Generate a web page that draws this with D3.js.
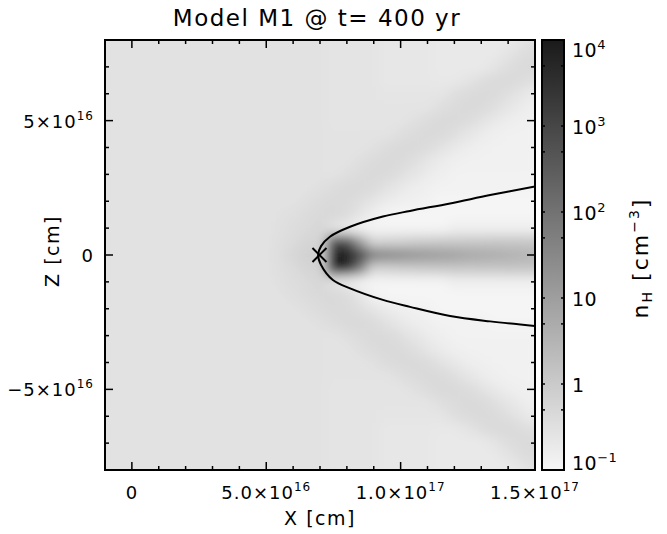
<!DOCTYPE html>
<html>
<head>
<meta charset="utf-8">
<script src="https://cdn.jsdelivr.net/npm/d3@7"></script>
<style>
  body { margin: 0; background: #fff; }
  text { font-family: "DejaVu Sans", sans-serif; fill: #000; }
</style>
</head>
<body>
<svg id="chart" width="667" height="534"></svg>
<script>
const UNIT = 1e16; // cm

// grid centres (in 1e16 cm)
const gridX = [-1,-0.5,0,0.5,1,1.5,2,2.5,3,3.5,4,4.5,5,5.5,6,6.5,7,7.5,8,8.5,9,9.5,10,10.5,11,11.5,12,12.5,13,13.5,14,14.5,15];
const gridZ = [8,7.5,7,6.5,6,5.5,5,4.5,4,3.5,3,2.5,2,1.5,1,0.5,0,-0.5,-1,-1.5,-2,-2.5,-3,-3.5,-4,-4.5,-5,-5.5,-6,-6.5,-7,-7.5,-8];

// log10 n_H [cm^-3], one row per gridZ (top to bottom), one column per gridX
const logNH = [
  [-0.55,-0.55,-0.55,-0.55,-0.55,-0.55,-0.55,-0.55,-0.55,-0.55,-0.55,-0.55,-0.55,-0.55,-0.55,-0.55,-0.55,-0.6,-0.6,-0.6,-0.6,-0.65,-0.65,-0.65,-0.65,-0.7,-0.7,-0.7,-0.7,-0.7,-0.7,-0.62,-0.5],
  [-0.55,-0.55,-0.55,-0.55,-0.55,-0.55,-0.55,-0.55,-0.55,-0.55,-0.55,-0.55,-0.55,-0.55,-0.55,-0.55,-0.55,-0.6,-0.6,-0.6,-0.6,-0.65,-0.65,-0.65,-0.65,-0.7,-0.7,-0.7,-0.7,-0.7,-0.6,-0.45,-0.38],
  [-0.55,-0.55,-0.55,-0.55,-0.55,-0.55,-0.55,-0.55,-0.55,-0.55,-0.55,-0.55,-0.55,-0.55,-0.55,-0.55,-0.55,-0.6,-0.6,-0.6,-0.6,-0.65,-0.65,-0.65,-0.65,-0.7,-0.7,-0.7,-0.7,-0.6,-0.45,-0.36,-0.35],
  [-0.55,-0.55,-0.55,-0.55,-0.55,-0.55,-0.55,-0.55,-0.55,-0.55,-0.55,-0.55,-0.55,-0.55,-0.55,-0.55,-0.55,-0.6,-0.6,-0.6,-0.6,-0.65,-0.65,-0.65,-0.65,-0.68,-0.68,-0.58,-0.45,-0.36,-0.34,-0.4,-0.5],
  [-0.55,-0.55,-0.55,-0.55,-0.55,-0.55,-0.55,-0.55,-0.55,-0.55,-0.55,-0.55,-0.55,-0.55,-0.55,-0.55,-0.55,-0.6,-0.6,-0.6,-0.6,-0.62,-0.62,-0.62,-0.62,-0.62,-0.47,-0.38,-0.33,-0.36,-0.48,-0.62,-0.74],
  [-0.55,-0.55,-0.55,-0.55,-0.55,-0.55,-0.55,-0.55,-0.55,-0.55,-0.55,-0.55,-0.55,-0.55,-0.55,-0.55,-0.55,-0.6,-0.6,-0.6,-0.6,-0.6,-0.6,-0.6,-0.6,-0.47,-0.38,-0.33,-0.36,-0.48,-0.62,-0.74,-0.83],
  [-0.55,-0.55,-0.55,-0.55,-0.55,-0.55,-0.55,-0.55,-0.55,-0.55,-0.55,-0.55,-0.55,-0.55,-0.55,-0.55,-0.55,-0.58,-0.58,-0.58,-0.58,-0.58,-0.58,-0.52,-0.42,-0.35,-0.34,-0.42,-0.55,-0.68,-0.79,-0.86,-0.88],
  [-0.55,-0.55,-0.55,-0.55,-0.55,-0.55,-0.55,-0.55,-0.55,-0.55,-0.55,-0.55,-0.55,-0.55,-0.55,-0.55,-0.55,-0.57,-0.57,-0.57,-0.57,-0.57,-0.47,-0.38,-0.33,-0.36,-0.48,-0.62,-0.74,-0.83,-0.88,-0.88,-0.88],
  [-0.55,-0.55,-0.55,-0.55,-0.55,-0.55,-0.55,-0.55,-0.55,-0.55,-0.55,-0.55,-0.55,-0.55,-0.55,-0.55,-0.55,-0.57,-0.57,-0.57,-0.52,-0.42,-0.35,-0.34,-0.42,-0.55,-0.68,-0.79,-0.86,-0.89,-0.89,-0.89,-0.89],
  [-0.55,-0.55,-0.55,-0.55,-0.55,-0.55,-0.55,-0.55,-0.55,-0.55,-0.55,-0.55,-0.55,-0.55,-0.55,-0.55,-0.55,-0.56,-0.56,-0.47,-0.38,-0.33,-0.36,-0.48,-0.62,-0.74,-0.83,-0.89,-0.89,-0.89,-0.89,-0.89,-0.89],
  [-0.55,-0.55,-0.55,-0.55,-0.55,-0.55,-0.55,-0.55,-0.55,-0.55,-0.55,-0.55,-0.55,-0.55,-0.55,-0.55,-0.55,-0.56,-0.47,-0.38,-0.33,-0.36,-0.48,-0.62,-0.74,-0.83,-0.9,-0.9,-0.9,-0.9,-0.9,-0.9,-0.9],
  [-0.55,-0.55,-0.55,-0.55,-0.55,-0.55,-0.55,-0.55,-0.55,-0.55,-0.55,-0.55,-0.55,-0.55,-0.55,-0.55,-0.5,-0.42,-0.35,-0.34,-0.42,-0.55,-0.68,-0.79,-0.86,-0.9,-0.9,-0.9,-0.9,-0.9,-0.9,-0.93,-0.93],
  [-0.55,-0.55,-0.55,-0.55,-0.55,-0.55,-0.55,-0.55,-0.55,-0.55,-0.55,-0.55,-0.55,-0.55,-0.55,-0.47,-0.38,-0.33,-0.36,-0.48,-0.62,-0.74,-0.83,-0.88,-0.9,-0.97,-0.97,-0.97,-0.97,-0.97,-0.97,-0.97,-0.97],
  [-0.55,-0.55,-0.55,-0.55,-0.55,-0.55,-0.55,-0.55,-0.55,-0.55,-0.55,-0.55,-0.55,-0.53,-0.47,-0.4,-0.35,-0.32,-0.42,-0.62,-0.85,-0.98,-0.98,-0.98,-0.98,-0.98,-0.98,-0.98,-0.98,-0.98,-0.98,-0.98,-0.98],
  [-0.55,-0.55,-0.55,-0.55,-0.55,-0.55,-0.55,-0.55,-0.55,-0.55,-0.55,-0.55,-0.55,-0.5,-0.44,-0.36,-0.3,-0.55,-0.75,-0.92,-0.95,-0.95,-0.95,-0.95,-0.95,-0.95,-0.85,-0.85,-0.85,-0.85,-0.85,-0.85,-0.85],
  [-0.55,-0.55,-0.55,-0.55,-0.55,-0.55,-0.55,-0.55,-0.55,-0.55,-0.55,-0.55,-0.55,-0.48,-0.38,-0.25,-0.25,2.8,2.8,1.0,-0.25,-0.2,-0.15,-0.1,-0.05,-0.02,0.0,0.02,0.03,0.04,0.05,0.05,0.05],
  [-0.55,-0.55,-0.55,-0.55,-0.55,-0.55,-0.55,-0.55,-0.55,-0.55,-0.55,-0.55,-0.55,-0.45,-0.3,-0.15,-0.2,4.0,4.0,3.0,1.7,1.5,1.35,1.2,1.1,1.0,0.9,0.8,0.72,0.65,0.58,0.5,0.45],
  [-0.55,-0.55,-0.55,-0.55,-0.55,-0.55,-0.55,-0.55,-0.55,-0.55,-0.55,-0.55,-0.55,-0.48,-0.38,-0.25,-0.2,3.6,3.6,1.8,-0.2,-0.15,-0.1,-0.05,0.0,0.02,0.04,0.05,0.06,0.07,0.08,0.08,0.08],
  [-0.55,-0.55,-0.55,-0.55,-0.55,-0.55,-0.55,-0.55,-0.55,-0.55,-0.55,-0.55,-0.55,-0.5,-0.44,-0.36,-0.3,-0.55,-0.7,-0.92,-0.95,-0.95,-0.95,-0.95,-0.95,-0.95,-0.85,-0.85,-0.85,-0.85,-0.85,-0.85,-0.85],
  [-0.55,-0.55,-0.55,-0.55,-0.55,-0.55,-0.55,-0.55,-0.55,-0.55,-0.55,-0.55,-0.55,-0.55,-0.47,-0.4,-0.35,-0.32,-0.42,-0.62,-0.9,-0.98,-0.98,-0.98,-0.98,-0.98,-0.98,-0.98,-0.98,-0.98,-0.98,-0.98,-0.98],
  [-0.55,-0.55,-0.55,-0.55,-0.55,-0.55,-0.55,-0.55,-0.55,-0.55,-0.55,-0.55,-0.55,-0.55,-0.55,-0.47,-0.38,-0.33,-0.36,-0.48,-0.62,-0.74,-0.83,-0.88,-0.9,-0.97,-0.97,-0.97,-0.97,-0.97,-0.97,-0.97,-0.97],
  [-0.55,-0.55,-0.55,-0.55,-0.55,-0.55,-0.55,-0.55,-0.55,-0.55,-0.55,-0.55,-0.55,-0.55,-0.55,-0.55,-0.5,-0.42,-0.35,-0.34,-0.42,-0.55,-0.68,-0.79,-0.86,-0.9,-0.9,-0.9,-0.9,-0.95,-0.95,-0.95,-0.95],
  [-0.55,-0.55,-0.55,-0.55,-0.55,-0.55,-0.55,-0.55,-0.55,-0.55,-0.55,-0.55,-0.55,-0.55,-0.55,-0.55,-0.55,-0.56,-0.47,-0.38,-0.33,-0.36,-0.48,-0.62,-0.74,-0.83,-0.9,-0.9,-0.9,-0.9,-0.9,-0.9,-0.9],
  [-0.55,-0.55,-0.55,-0.55,-0.55,-0.55,-0.55,-0.55,-0.55,-0.55,-0.55,-0.55,-0.55,-0.55,-0.55,-0.55,-0.55,-0.56,-0.56,-0.47,-0.38,-0.33,-0.36,-0.48,-0.62,-0.74,-0.83,-0.89,-0.89,-0.89,-0.89,-0.89,-0.89],
  [-0.55,-0.55,-0.55,-0.55,-0.55,-0.55,-0.55,-0.55,-0.55,-0.55,-0.55,-0.55,-0.55,-0.55,-0.55,-0.55,-0.55,-0.57,-0.57,-0.57,-0.52,-0.42,-0.35,-0.34,-0.42,-0.55,-0.68,-0.79,-0.86,-0.89,-0.89,-0.89,-0.89],
  [-0.55,-0.55,-0.55,-0.55,-0.55,-0.55,-0.55,-0.55,-0.55,-0.55,-0.55,-0.55,-0.55,-0.55,-0.55,-0.55,-0.55,-0.57,-0.57,-0.57,-0.57,-0.57,-0.47,-0.38,-0.33,-0.36,-0.48,-0.62,-0.74,-0.83,-0.88,-0.88,-0.88],
  [-0.55,-0.55,-0.55,-0.55,-0.55,-0.55,-0.55,-0.55,-0.55,-0.55,-0.55,-0.55,-0.55,-0.55,-0.55,-0.55,-0.55,-0.58,-0.58,-0.58,-0.58,-0.58,-0.58,-0.52,-0.42,-0.35,-0.34,-0.42,-0.55,-0.68,-0.79,-0.86,-0.88],
  [-0.55,-0.55,-0.55,-0.55,-0.55,-0.55,-0.55,-0.55,-0.55,-0.55,-0.55,-0.55,-0.55,-0.55,-0.55,-0.55,-0.55,-0.6,-0.6,-0.6,-0.6,-0.6,-0.6,-0.6,-0.6,-0.47,-0.38,-0.33,-0.36,-0.48,-0.62,-0.74,-0.83],
  [-0.55,-0.55,-0.55,-0.55,-0.55,-0.55,-0.55,-0.55,-0.55,-0.55,-0.55,-0.55,-0.55,-0.55,-0.55,-0.55,-0.55,-0.6,-0.6,-0.6,-0.6,-0.62,-0.62,-0.62,-0.62,-0.62,-0.47,-0.38,-0.33,-0.36,-0.48,-0.62,-0.74],
  [-0.55,-0.55,-0.55,-0.55,-0.55,-0.55,-0.55,-0.55,-0.55,-0.55,-0.55,-0.55,-0.55,-0.55,-0.55,-0.55,-0.55,-0.6,-0.6,-0.6,-0.6,-0.65,-0.65,-0.65,-0.65,-0.68,-0.68,-0.58,-0.45,-0.36,-0.34,-0.4,-0.5],
  [-0.55,-0.55,-0.55,-0.55,-0.55,-0.55,-0.55,-0.55,-0.55,-0.55,-0.55,-0.55,-0.55,-0.55,-0.55,-0.55,-0.55,-0.6,-0.6,-0.6,-0.6,-0.65,-0.65,-0.65,-0.65,-0.7,-0.7,-0.7,-0.7,-0.6,-0.45,-0.36,-0.35],
  [-0.55,-0.55,-0.55,-0.55,-0.55,-0.55,-0.55,-0.55,-0.55,-0.55,-0.55,-0.55,-0.55,-0.55,-0.55,-0.55,-0.55,-0.6,-0.6,-0.6,-0.6,-0.65,-0.65,-0.65,-0.65,-0.7,-0.7,-0.7,-0.7,-0.7,-0.6,-0.45,-0.38],
  [-0.55,-0.55,-0.55,-0.55,-0.55,-0.55,-0.55,-0.55,-0.55,-0.55,-0.55,-0.55,-0.55,-0.55,-0.55,-0.55,-0.55,-0.6,-0.6,-0.6,-0.6,-0.65,-0.65,-0.65,-0.65,-0.7,-0.7,-0.7,-0.7,-0.7,-0.7,-0.62,-0.5]
];

// bow shock contour (x, z in 1e16 cm), top to bottom
const shockX = [15.0,13.33,11.84,10.35,9.34,8.12,7.37,7.04,6.93,7.04,7.48,8.12,9.34,10.35,11.84,13.33,15.0];
const shockZ = [2.55,2.23,1.92,1.64,1.43,1.05,0.68,0.33,0,-0.37,-0.93,-1.24,-1.67,-1.93,-2.27,-2.47,-2.64];

// star position
const starX = 6.98, starZ = 0;

const xMajor = [0, 5e16, 1e17, 1.5e17];
const xLabels = [["0",""], ["5.0×10","16"], ["1.0×10","17"], ["1.5×10","17"]];
const zMajor = [5e16, 0, -5e16];
const zLabels = [["5×10","16"], ["0",""], ["−5×10","16"]];
const cbMajor = [1e4, 1e3, 1e2, 10, 1, 0.1];
const cbLabels = [["10","4"], ["10","3"], ["10","2"], ["10",""], ["1",""], ["10","−1"]];
const cbMinor = [5000, 500, 50, 5, 0.5];

const svg = d3.select("#chart");
const plot = {left: 105, top: 40, size: 430};

const x = d3.scaleLinear().domain([-1e16, 1.5e17]).range([plot.left, plot.left + plot.size]);
const z = d3.scaleLinear().domain([-8e16, 8e16]).range([plot.top + plot.size, plot.top]);
const cb = d3.scaleLog().domain([0.1, 1e4]).range([plot.top + plot.size, plot.top]);
const grey = d3.scaleLinear().domain([-1, 4]).range(["#f6f6f6", "#1a1a1a"]).clamp(true);

const defs = svg.append("defs");
defs.append("clipPath").attr("id", "plotClip")
  .append("rect")
  .attr("x", plot.left).attr("y", plot.top)
  .attr("width", plot.size).attr("height", plot.size);
defs.append("filter").attr("id", "soft")
  .attr("filterUnits", "userSpaceOnUse")
  .attr("x", plot.left - 22).attr("y", plot.top - 22)
  .attr("width", plot.size + 44).attr("height", plot.size + 44)
  .append("feGaussianBlur").attr("stdDeviation", 6);

const cbGrad = defs.append("linearGradient").attr("id", "cbGrad")
  .attr("x1", 0).attr("y1", 1).attr("x2", 0).attr("y2", 0);
cbGrad.append("stop").attr("offset", 0).attr("stop-color", grey(-1));
cbGrad.append("stop").attr("offset", 1).attr("stop-color", grey(4));

// density cells
const cells = [];
logNH.forEach((row, j) => row.forEach((v, i) => cells.push({i, j, v})));
const half = 0.25 * UNIT, pad = 30;
const last = gridX.length - 1;

svg.append("g").attr("clip-path", "url(#plotClip)")
  .append("g").attr("filter", "url(#soft)")
  .selectAll("rect")
  .data(cells).enter().append("rect")
  .attr("x", d => x(gridX[d.i] * UNIT - half) - (d.i == 0 ? pad : 0))
  .attr("y", d => z(gridZ[d.j] * UNIT + half) - (d.j == 0 ? pad : 0))
  .attr("width", d => x(gridX[d.i] * UNIT + half) - x(gridX[d.i] * UNIT - half) + 0.6 + (d.i == 0 || d.i == last ? pad : 0))
  .attr("height", d => z(gridZ[d.j] * UNIT - half) - z(gridZ[d.j] * UNIT + half) + 0.6 + (d.j == 0 || d.j == last ? pad : 0))
  .attr("fill", d => grey(d.v))
  .attr("shape-rendering", "crispEdges");

// bow shock line
const shockLine = d3.line()
  .x(d => x(d[0] * UNIT)).y(d => z(d[1] * UNIT))
  .curve(d3.curveCatmullRom);
svg.append("path")
  .datum(d3.zip(shockX, shockZ))
  .attr("clip-path", "url(#plotClip)")
  .attr("d", shockLine)
  .attr("fill", "none").attr("stroke", "#000").attr("stroke-width", 2);

// star marker
const sx = x(starX * UNIT), sz = z(starZ * UNIT);
svg.append("path")
  .attr("d", `M${sx-7},${sz-7}L${sx+7},${sz+7}M${sx-7},${sz+7}L${sx+7},${sz-7}`)
  .attr("stroke", "#000").attr("stroke-width", 2).attr("fill", "none");

// ticks (inward, all four sides)
const axes = svg.append("g").attr("stroke", "#000").attr("stroke-width", 1.5);
const xMinor = d3.range(-1, 16).map(k => k * UNIT).filter(v => !xMajor.includes(v));
const zMinor = d3.range(-8, 9).map(k => k * UNIT).filter(v => !zMajor.includes(v));
const bottom = plot.top + plot.size, right = plot.left + plot.size;

function xTicks(vals, len) {
  vals.forEach(v => {
    axes.append("line").attr("x1", x(v)).attr("x2", x(v)).attr("y1", bottom).attr("y2", bottom - len);
    axes.append("line").attr("x1", x(v)).attr("x2", x(v)).attr("y1", plot.top).attr("y2", plot.top + len);
  });
}
function zTicks(vals, len) {
  vals.forEach(v => {
    axes.append("line").attr("y1", z(v)).attr("y2", z(v)).attr("x1", plot.left).attr("x2", plot.left + len);
    axes.append("line").attr("y1", z(v)).attr("y2", z(v)).attr("x1", right).attr("x2", right - len);
  });
}
xTicks(xMajor, 8); xTicks(xMinor, 4);
zTicks(zMajor, 8); zTicks(zMinor, 4);

svg.append("rect")
  .attr("x", plot.left).attr("y", plot.top)
  .attr("width", plot.size).attr("height", plot.size)
  .attr("fill", "none").attr("stroke", "#000").attr("stroke-width", 2);

function label(g, px, py, anchor, parts, size, spacing) {
  const t = g.append("text").attr("x", px).attr("y", py)
    .attr("text-anchor", anchor).style("font-size", size + "px")
    .style("letter-spacing", (spacing || 0) + "px");
  t.append("tspan").text(parts[0]);
  if (parts[1]) t.append("tspan").attr("dy", -8).style("font-size", Math.round(size * 0.68) + "px").text(parts[1]);
  return t;
}

const labels = svg.append("g");
xMajor.forEach((v, k) => label(labels, x(v), 499, "middle", xLabels[k], 18, 1));
zMajor.forEach((v, k) => label(labels, 94, z(v) + 7, "end", zLabels[k], 18, 1));

labels.append("text").attr("x", 320).attr("y", 525)
  .attr("text-anchor", "middle").style("font-size", "19px").style("letter-spacing", "1.5px")
  .text("X [cm]");
labels.append("text").attr("transform", "translate(59,251) rotate(-90)")
  .attr("text-anchor", "middle").style("font-size", "19px").style("letter-spacing", "1.5px")
  .text("Z [cm]");
labels.append("text").attr("x", 317).attr("y", 26)
  .attr("text-anchor", "middle").style("font-size", "23px").style("letter-spacing", "1.5px")
  .text("Model M1 @ t= 400 yr");

// colour bar
const cbX = 542, cbW = 22;
svg.append("rect")
  .attr("x", cbX).attr("y", plot.top).attr("width", cbW).attr("height", plot.size)
  .attr("fill", "url(#cbGrad)");
const cbAxis = svg.append("g").attr("stroke", "#000").attr("stroke-width", 1.5);
cbMajor.concat(cbMinor).forEach(v => {
  cbAxis.append("line").attr("x1", cbX).attr("x2", cbX + 3).attr("y1", cb(v)).attr("y2", cb(v));
  cbAxis.append("line").attr("x1", cbX + cbW).attr("x2", cbX + cbW - 3).attr("y1", cb(v)).attr("y2", cb(v));
});
svg.append("rect")
  .attr("x", cbX).attr("y", plot.top).attr("width", cbW).attr("height", plot.size)
  .attr("fill", "none").attr("stroke", "#000").attr("stroke-width", 2);

// end labels are kept inside the bar's span
cbMajor.forEach((v, k) => {
  const base = Math.min(Math.max(cb(v) + 8, plot.top + 17), bottom);
  label(labels, 572, base, "start", cbLabels[k], 19, 0.5);
});

const cbTitle = labels.append("text").attr("transform", "translate(648,258) rotate(-90)")
  .attr("text-anchor", "middle").style("font-size", "22px").style("letter-spacing", "2px");
cbTitle.append("tspan").text("n");
cbTitle.append("tspan").attr("dy", 4).style("font-size", "14px").text("H");
cbTitle.append("tspan").attr("dy", -4).text(" [cm");
cbTitle.append("tspan").attr("dy", -9).style("font-size", "14px").text("−3");
cbTitle.append("tspan").attr("dy", 9).text("]");
</script>
</body>
</html>
